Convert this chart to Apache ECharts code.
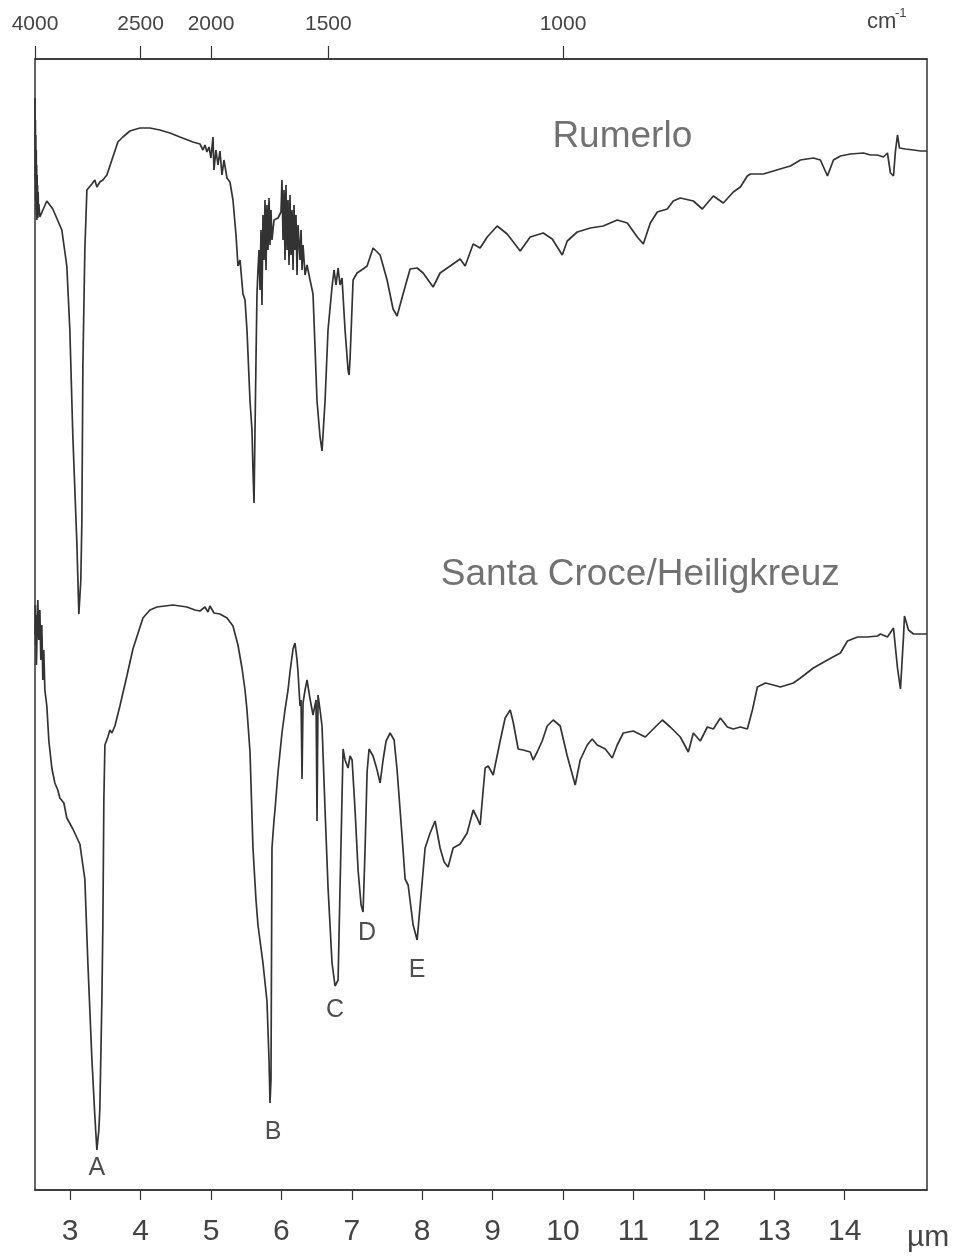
<!DOCTYPE html>
<html>
<head>
<meta charset="utf-8">
<script src="https://cdn.jsdelivr.net/npm/echarts@6.0.0/dist/echarts.min.js"></script>
<style>
  html, body { margin: 0; padding: 0; background: #fff; }
  #chart { width: 954px; height: 1256px; }
</style>
</head>
<body>
<div id="chart"></div>
<script>
// ---- data (x in micrometres, y in relative transmittance units, traces offset) ----
const rumerlo = [
  [2.500,109.2],[2.503,101.0],[2.506,107.0],[2.509,99.0],[2.512,105.5],[2.515,98.0],[2.518,104.0],[2.521,97.5],[2.524,102.5],[2.527,97.0],[2.530,101.5],[2.533,97.8],[2.536,100.5],[2.540,97.2],[2.545,99.8],[2.550,97.5],[2.555,98.6],
  [2.569,97.3],[2.668,98.9],[2.753,98.1],[2.881,96.0],[2.952,92.4],[2.995,86.0],[3.038,75.3],[3.095,64.6],[3.123,57.6],[3.151,61.0],[3.166,67.0],[3.180,82.4],[3.208,94.0],[3.237,100.0],[3.308,100.6],[3.350,101.0],[3.379,100.3],[3.421,100.8],[3.464,101.0],[3.521,101.5],[3.606,103.3],[3.677,104.8],[3.748,105.3],[3.848,105.9],[3.990,106.2],[4.132,106.2],[4.274,106.0],[4.416,105.7],[4.559,105.3],[4.743,104.8],[4.843,104.6],[4.886,104.0],[4.914,104.5],[4.942,103.8],[4.971,104.3],[4.999,103.2],[5.028,105.3],[5.042,102.0],[5.070,104.0],[5.099,102.5],[5.127,103.9],[5.156,101.5],[5.184,103.0],[5.227,101.2],[5.269,100.8],[5.312,99.0],[5.355,95.5],[5.383,92.4],[5.412,93.0],[5.454,89.6],[5.483,89.0],[5.511,86.0],[5.554,78.9],[5.582,76.0],[5.596,72.0],[5.611,68.7],[5.625,76.0],[5.639,83.0],[5.653,89.6],[5.667,92.0],[5.682,94.0],[5.696,90.0],[5.710,96.0],[5.724,88.5],[5.738,97.5],[5.753,93.0],[5.767,99.0],[5.781,92.0],[5.795,98.5],[5.810,94.0],[5.824,99.2],[5.838,94.5],[5.852,98.0],[5.866,95.0],[5.895,97.0],[5.952,97.2],[5.994,97.8],[6.008,101.0],[6.023,95.0],[6.037,100.0],[6.051,93.0],[6.065,100.5],[6.080,94.0],[6.094,99.0],[6.108,92.5],[6.122,99.5],[6.136,93.5],[6.151,98.0],[6.165,92.0],[6.179,98.5],[6.193,94.0],[6.207,97.5],[6.222,91.5],[6.236,96.5],[6.264,93.0],[6.279,96.0],[6.293,92.0],[6.307,94.5],[6.336,91.5],[6.364,92.5],[6.407,91.0],[6.449,89.6],[6.506,78.9],[6.549,75.3],[6.577,73.9],[6.620,78.9],[6.662,86.0],[6.719,90.3],[6.748,92.0],[6.776,90.5],[6.805,92.2],[6.833,90.5],[6.861,91.2],[6.904,86.0],[6.947,82.0],[6.961,81.5],[6.975,83.1],[7.018,91.0],[7.075,91.7],[7.160,92.1],[7.217,92.4],[7.302,94.2],[7.402,93.5],[7.501,91.0],[7.586,88.1],[7.643,87.4],[7.728,89.6],[7.828,92.1],[7.928,92.2],[8.013,91.7],[8.155,90.3],[8.254,91.7],[8.397,92.4],[8.539,93.1],[8.610,92.4],[8.724,94.6],[8.823,94.2],[8.923,95.3],[9.065,96.4],[9.207,95.6],[9.392,93.9],[9.534,95.3],[9.719,95.7],[9.847,95.1],[9.989,93.5],[10.060,94.9],[10.202,95.8],[10.387,96.2],[10.571,96.4],[10.770,97.0],[10.913,96.7],[11.055,95.3],[11.140,94.6],[11.240,96.7],[11.339,97.8],[11.481,98.1],[11.566,98.9],[11.666,99.2],[11.851,98.9],[11.979,98.1],[12.050,98.7],[12.135,99.4],[12.277,98.7],[12.419,99.8],[12.519,100.3],[12.618,101.4],[12.661,101.6],[12.846,101.6],[12.988,101.9],[13.130,102.2],[13.230,102.4],[13.372,103.0],[13.556,103.2],[13.656,103.0],[13.756,101.4],[13.841,103.0],[13.940,103.4],[14.082,103.6],[14.267,103.7],[14.367,103.5],[14.466,103.5],[14.551,103.3],[14.608,103.7],[14.651,101.7],[14.694,101.4],[14.722,103.9],[14.751,105.5],[14.779,104.2],[14.864,104.1],[14.978,104.0],[15.078,103.9],[15.170,103.9]
];

const santaCroce = [
  [2.500,55.5],[2.505,58.5],[2.510,54.5],[2.515,57.5],[2.520,52.5],[2.530,56.0],[2.540,59.0],[2.554,55.0],[2.569,58.0],[2.583,53.0],[2.597,56.5],[2.611,51.0],[2.625,54.0],[2.640,50.0],[2.668,48.4],[2.697,44.9],[2.739,42.2],[2.782,40.7],[2.824,40.0],[2.853,39.2],[2.881,39.4],[2.910,38.7],[2.952,37.2],[3.038,36.1],[3.137,34.6],[3.208,31.1],[3.251,22.7],[3.308,13.1],[3.350,7.4],[3.379,4.0],[3.407,6.0],[3.421,8.1],[3.450,19.0],[3.464,26.5],[3.478,39.0],[3.493,44.5],[3.535,45.3],[3.564,46.0],[3.592,45.7],[3.635,46.4],[3.706,48.4],[3.805,51.4],[3.891,54.1],[4.033,57.2],[4.132,58.0],[4.232,58.3],[4.459,58.5],[4.658,58.3],[4.772,58.0],[4.843,57.9],[4.914,58.3],[4.957,57.8],[4.985,58.4],[5.042,57.7],[5.127,57.6],[5.227,57.2],[5.312,56.4],[5.383,54.5],[5.440,52.2],[5.483,50.0],[5.511,48.0],[5.554,43.8],[5.596,34.2],[5.639,29.0],[5.667,26.5],[5.738,22.7],[5.795,18.9],[5.824,13.0],[5.838,8.7],[5.852,11.0],[5.866,34.2],[5.895,37.0],[5.909,38.0],[5.937,40.5],[5.952,41.8],[6.008,45.7],[6.051,48.0],[6.094,50.0],[6.122,51.8],[6.165,54.1],[6.193,54.7],[6.222,53.0],[6.236,51.8],[6.264,48.4],[6.279,49.0],[6.293,41.1],[6.307,48.7],[6.336,50.0],[6.364,51.0],[6.407,49.1],[6.449,47.5],[6.492,49.0],[6.506,36.9],[6.520,49.5],[6.549,48.0],[6.577,46.4],[6.620,38.0],[6.662,30.3],[6.719,22.7],[6.762,20.4],[6.805,21.0],[6.833,30.3],[6.876,44.1],[6.904,43.0],[6.947,42.2],[6.975,43.4],[7.004,43.0],[7.046,38.0],[7.089,32.0],[7.132,28.5],[7.160,27.8],[7.188,34.0],[7.217,41.8],[7.245,44.1],[7.302,43.4],[7.359,42.0],[7.402,40.7],[7.444,43.0],[7.487,44.9],[7.544,45.7],[7.601,45.0],[7.643,42.0],[7.686,38.0],[7.728,34.0],[7.757,31.1],[7.800,30.5],[7.828,30.3],[7.871,26.5],[7.928,25.0],[7.970,28.4],[8.041,34.2],[8.112,35.7],[8.183,36.9],[8.254,34.2],[8.311,32.8],[8.368,32.3],[8.439,34.2],[8.539,34.6],[8.638,35.7],[8.724,38.0],[8.780,37.2],[8.823,36.5],[8.866,40.0],[8.894,42.2],[8.937,42.4],[9.008,41.5],[9.107,44.9],[9.178,47.2],[9.250,48.0],[9.292,46.8],[9.363,44.1],[9.434,44.0],[9.534,43.8],[9.576,43.0],[9.633,43.8],[9.704,44.9],[9.775,46.4],[9.861,47.0],[9.960,46.4],[10.060,43.4],[10.173,40.5],[10.244,43.0],[10.344,44.5],[10.415,45.1],[10.486,44.5],[10.600,44.1],[10.699,43.2],[10.770,44.5],[10.856,45.7],[10.998,45.9],[11.168,45.3],[11.282,46.1],[11.410,47.0],[11.524,46.3],[11.666,45.3],[11.780,43.8],[11.851,45.7],[11.950,44.9],[12.050,46.3],[12.135,46.1],[12.235,47.2],[12.334,46.3],[12.419,46.1],[12.519,46.3],[12.618,46.1],[12.690,48.0],[12.761,50.3],[12.874,50.7],[12.988,50.5],[13.087,50.3],[13.272,50.7],[13.372,51.2],[13.556,52.2],[13.756,53.0],[13.940,53.7],[14.040,54.9],[14.182,55.3],[14.324,55.3],[14.466,55.4],[14.509,55.6],[14.608,55.3],[14.694,56.2],[14.751,52.2],[14.793,50.1],[14.836,55.3],[14.850,57.4],[14.907,56.0],[14.978,55.6],[15.078,55.6],[15.170,55.6]
];

const micronTicks = [3, 4, 5, 6, 7, 8, 9, 10, 11, 12, 13, 14];
const wavenumberTicks = [4000, 2500, 2000, 1500, 1000];

const peakNames = ['A', 'B', 'C', 'D', 'E'];
const peakLabelX = [3.379, 5.881, 6.762, 7.217, 7.928];
const peakLabelY = [2.2, 5.8, 18.0, 25.7, 22.0];

const sampleNames = ['Rumerlo', 'Santa Croce/Heiligkreuz'];
const sampleLabelX = [10.842, 11.097];
const sampleLabelY = [105.3, 61.5];

// ---- chart ----
const X_MIN = 2.5, X_MAX = 15.17;
const FONT = '"Liberation Sans", Arial, sans-serif';
const chart = echarts.init(document.getElementById('chart'), null, { renderer: 'canvas' });

const option = {
  animation: false,
  backgroundColor: '#ffffff',
  grid: {
    left: 35, right: 27, top: 59, bottom: 66,
    show: true, borderColor: '#333', borderWidth: 1.5, backgroundColor: 'transparent'
  },
  xAxis: [
    {
      type: 'value', position: 'bottom', min: X_MIN, max: X_MAX,
      axisLine: { show: true, lineStyle: { color: '#333', width: 1.5 } },
      axisTick: { show: true, inside: false, length: 10, customValues: micronTicks, lineStyle: { color: '#333', width: 1.2 } },
      axisLabel: { show: true, customValues: micronTicks, margin: 27, fontSize: 30, color: '#444', fontFamily: FONT },
      splitLine: { show: false }
    },
    {
      type: 'value', position: 'top', min: X_MIN, max: X_MAX,
      axisLine: { show: true, lineStyle: { color: '#333', width: 1.5 } },
      axisTick: { show: true, inside: false, length: 13, customValues: wavenumberTicks.map(c => 10000 / c), lineStyle: { color: '#333', width: 1.2 } },
      axisLabel: {
        show: true, customValues: wavenumberTicks.map(c => 10000 / c), margin: 24,
        fontSize: 21, color: '#444', fontFamily: FONT,
        formatter: v => String(Math.round(10000 / v))
      },
      splitLine: { show: false }
    }
  ],
  yAxis: { type: 'value', min: 0, max: 113.1, show: false },
  series: [
    {
      name: sampleNames[0], type: 'line', data: rumerlo, showSymbol: false, symbol: 'none',
      lineStyle: { color: '#333', width: 1.7 }, silent: true
    },
    {
      name: sampleNames[1], type: 'line', data: santaCroce, showSymbol: false, symbol: 'none',
      lineStyle: { color: '#333', width: 1.7 }, silent: true
    },
    {
      type: 'scatter', silent: true, symbolSize: 2, itemStyle: { color: 'rgba(0,0,0,0)' },
      data: peakNames.map((n, i) => ({ name: n, value: [peakLabelX[i], peakLabelY[i]] })),
      label: { show: true, position: 'inside', formatter: '{b}', fontSize: 25, color: '#222', fontFamily: FONT }
    },
    {
      type: 'scatter', silent: true, symbolSize: 2, itemStyle: { color: 'rgba(0,0,0,0)' },
      data: sampleNames.map((n, i) => ({ name: n, value: [sampleLabelX[i], sampleLabelY[i]] })),
      label: { show: true, position: 'inside', formatter: '{b}', fontSize: 37, color: '#4d4d4d', fontFamily: FONT }
    }
  ],
  graphic: [
    { type: 'text', x: 907, y: 1238, style: { text: 'µm', font: '30px ' + FONT, fill: '#444', verticalAlign: 'middle' } },
    { type: 'text', x: 867, y: 22, style: { text: 'cm', font: '22px ' + FONT, fill: '#444', verticalAlign: 'middle' } },
    { type: 'text', x: 895, y: 13, style: { text: '-1', font: '13px ' + FONT, fill: '#444', verticalAlign: 'middle' } }
  ]
};
chart.setOption(option);
</script>
</body>
</html>
